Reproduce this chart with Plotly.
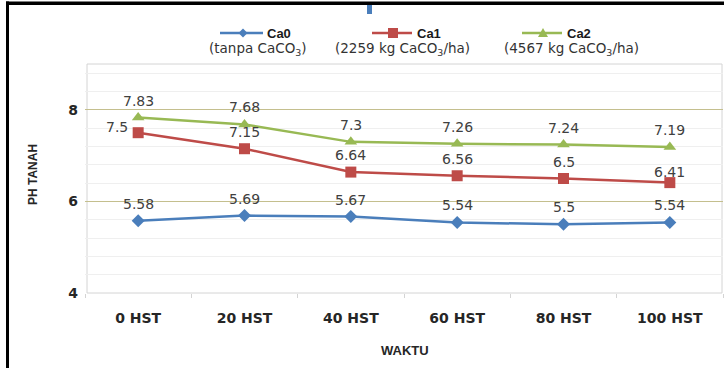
import plotly.graph_objects as go

# ---- data ----
categories = ["0 HST", "20 HST", "40 HST", "60 HST", "80 HST", "100 HST"]
ca0 = [5.58, 5.69, 5.67, 5.54, 5.50, 5.54]
ca1 = [7.50, 7.15, 6.64, 6.56, 6.50, 6.41]
ca2 = [7.83, 7.68, 7.30, 7.26, 7.24, 7.19]
series_names = ["Ca0", "Ca1", "Ca2"]
series_sub = ["(tanpa CaCO<sub>3</sub>)", "(2259 kg CaCO<sub>3</sub>/ha)", "(4567 kg CaCO<sub>3</sub>/ha)"]
y_ticks = [4, 6, 8]

# ---- style ----
W, H = 724, 368
L, R, T, B = 85, 1, 64, 75
PW, PH = W - L - R, H - T - B
colors = ["#4a7ebb", "#be4b48", "#98b954"]
symbols = ["diamond", "square", "triangle-up"]
msizes = [10, 11, 11]
LABEL_FONT = dict(family="DejaVu Sans", size=14, color="#404040")


def px(x):
    return (x - L) / PW


def py(y):
    return (H - B - y) / PH


fig = go.Figure()
values = [ca0, ca1, ca2]
for name, vals, c, s, ms in zip(series_names, values, colors, symbols, msizes):
    fig.add_trace(go.Scatter(
        x=categories, y=vals, mode="lines+markers", name=name,
        line=dict(color=c, width=2.5),
        marker=dict(symbol=s, size=ms, color=c),
        showlegend=False, hoverinfo="skip",
    ))

annotations = []
special = {(1, 0): dict(xshift=-21, yshift=6), (1, 5): dict(xshift=0, yshift=11)}
for si, vals in enumerate(values):
    for ci, v in enumerate(vals):
        off = special.get((si, ci), dict(xshift=0, yshift=17))
        annotations.append(dict(
            x=categories[ci], y=v, xref="x", yref="y", text=str(v),
            xanchor="center", yanchor="middle",
            showarrow=False, font=LABEL_FONT, **off))

annotations.append(dict(x=px(33), y=py(175), xref="paper", yref="paper", text="<b>PH TANAH</b>",
                        textangle=-90, showarrow=False, xanchor="center", yanchor="middle",
                        font=dict(family="Liberation Sans", size=12, color="#262626")))
annotations.append(dict(x=px(405), y=py(350), xref="paper", yref="paper", text="<b>WAKTU</b>",
                        showarrow=False, xanchor="center", yanchor="middle",
                        font=dict(family="Liberation Sans", size=13, color="#262626")))

shapes = []
leg = [
    (220, 263, 243, 265, 258),
    (372, 412, 393, 415, 402),
    (522, 562, 543, 565, 571),
]
for i, (x0, x1, mx, nx, sx) in enumerate(leg):
    c = colors[i]
    shapes.append(dict(type="line", xref="paper", yref="paper", x0=px(x0), x1=px(x1),
                       y0=py(33), y1=py(33), line=dict(color=c, width=2.5)))
    if i == 0:
        path = f"M {px(mx)} {py(28.5)} L {px(mx+4.5)} {py(33)} L {px(mx)} {py(37.5)} L {px(mx-4.5)} {py(33)} Z"
    elif i == 1:
        path = f"M {px(mx-5)} {py(28)} L {px(mx+5)} {py(28)} L {px(mx+5)} {py(38)} L {px(mx-5)} {py(38)} Z"
    else:
        path = f"M {px(mx)} {py(28)} L {px(mx+5)} {py(37)} L {px(mx-5)} {py(37)} Z"
    shapes.append(dict(type="path", xref="paper", yref="paper", path=path,
                       fillcolor=c, line=dict(color=c, width=0)))
    annotations.append(dict(x=px(nx), y=py(33), xref="paper", yref="paper",
                            xanchor="left", yanchor="middle",
                            text=f"<b>{series_names[i]}</b>", showarrow=False,
                            font=dict(family="Liberation Sans", size=13, color="#1a1a1a")))
    annotations.append(dict(x=px(sx), y=py(48.5), xref="paper", yref="paper",
                            xanchor="center", yanchor="middle",
                            text=series_sub[i], showarrow=False,
                            font=dict(family="DejaVu Sans", size=13.5, color="#333333")))

shapes.append(dict(type="rect", xref="paper", yref="paper", x0=px(367), x1=px(372),
                   y0=py(14), y1=py(5), fillcolor="#4a7ebb", line=dict(width=0)))
# frame: top & left black
shapes.append(dict(type="rect", xref="paper", yref="paper", x0=px(6), x1=px(724),
                   y0=py(5), y1=py(1.5), fillcolor="#000000", line=dict(width=0)))
shapes.append(dict(type="rect", xref="paper", yref="paper", x0=px(6), x1=px(9),
                   y0=py(368), y1=py(1.5), fillcolor="#000000", line=dict(width=0)))
shapes.append(dict(type="rect", xref="paper", yref="paper", x0=px(87), x1=px(722),
                   y0=0, y1=1, line=dict(color="#d4d4d4", width=1), layer="below"))

fig.update_layout(
    width=W, height=H,
    margin=dict(l=L, r=R, t=T, b=B),
    paper_bgcolor="white", plot_bgcolor="white",
    annotations=annotations, shapes=shapes,
    showlegend=False,
)
fig.update_xaxes(
    type="category", range=[-0.5, 5.5], showgrid=False, zeroline=False,
    ticks="outside", tickson="boundaries", ticklen=4, tickcolor="#d4d4d4",
    showline=False, ticklabelstandoff=15,
    tickfont=dict(family="DejaVu Sans", size=14, color="#262626", weight="bold"),
)
fig.update_yaxes(
    range=[4, 9], tickvals=y_ticks, ticktext=[str(v) for v in y_ticks],
    showgrid=True, gridcolor="#c4bf8e", gridwidth=1, zeroline=False,
    minor=dict(dtick=0.4, tick0=4, showgrid=True, gridcolor="#efefef", gridwidth=1, ticks=""),
    ticks="", ticklabelstandoff=6,
    tickfont=dict(family="DejaVu Sans", size=14, color="#262626", weight="bold"),
)

fig.write_html("out.html", config={"displayModeBar": False},
               post_script="document.body.style.margin='0';")
